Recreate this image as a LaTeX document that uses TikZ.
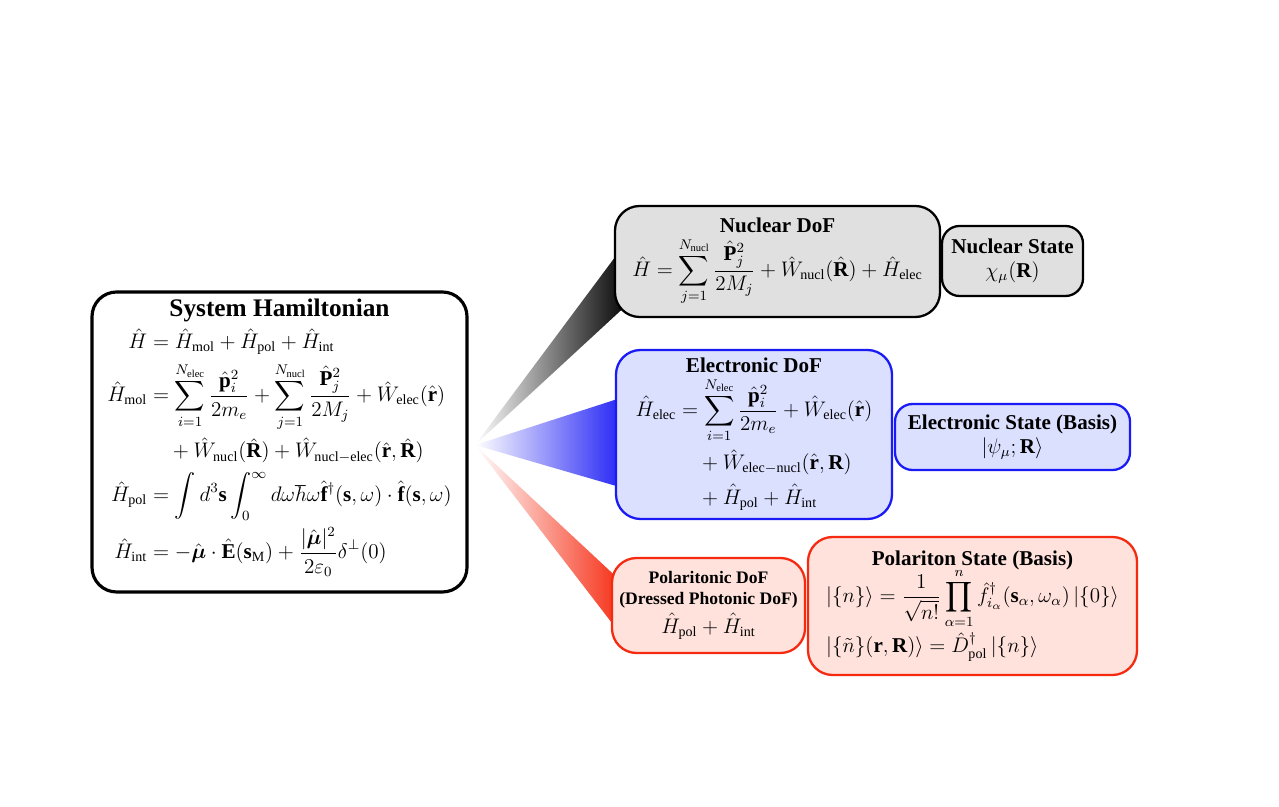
\documentclass[tikz,border=0pt]{standalone}
\usepackage{amsmath,amssymb}
\usepackage{fontspec}
\setmainfont{Liberation Serif}
\usetikzlibrary{positioning}
\definecolor{nucfill}{HTML}{E0E0E0}
\definecolor{elecline}{HTML}{1A1AF5}
\definecolor{elecfill}{HTML}{DCE0FF}
\definecolor{polline}{HTML}{F52A10}
\definecolor{polfill}{HTML}{FFE2DC}
\newcommand{\mrm}[1]{\mathrm{#1}}
\begin{document}
\begin{tikzpicture}[
  box/.style={draw, rounded corners=14pt, line width=1.3pt, align=center, inner sep=2pt, font=\large},
  nucbox/.style={box, fill=nucfill},
  elecbox/.style={box, draw=elecline, fill=elecfill},
  polbox/.style={box, draw=polline, fill=polfill}
]
  \useasboundingbox (0,0) rectangle (25.58,16.14);
  % wedges from the system box
  \coordinate (apex) at (9.5,7.24);
  \shade[left color=white, right color=black] (apex) -- (12.6,11.4) -- (12.6,10.1) -- cycle;
  \shade[left color=white, right color=elecline] (apex) -- (12.6,8.24) -- (12.6,6.34) -- cycle;
  \shade[left color=white, right color=polline] (apex) -- (12.5,4.44) -- (12.5,3.34) -- cycle;
  % system hamiltonian
  \node[box, line width=1.8pt, minimum width=7.5cm, minimum height=6cm] (sys) at (5.59,7.30) {};
  \node[font=\Large\bfseries, below=0.05cm of sys.north] (systtl) {System Hamiltonian};
  \node[font=\large, below=-0.12cm of systtl] (syseq) {$\begin{aligned}
    \hat H &= \hat H_{\mrm{mol}} + \hat H_{\mrm{pol}} + \hat H_{\mrm{int}}\\
    \hat H_{\mrm{mol}} &= \sum_{i=1}^{N_{\mrm{elec}}} \frac{\hat{\mathbf p}_i^2}{2m_e} + \sum_{j=1}^{N_{\mrm{nucl}}}\frac{\hat{\mathbf P}_j^2}{2M_j} + \hat W_{\mrm{elec}}(\hat{\mathbf r})\\
    &\quad + \hat W_{\mrm{nucl}}(\hat{\mathbf R}) + \hat W_{\mrm{nucl-elec}}(\hat{\mathbf r},\hat{\mathbf R})\\
    \hat H_{\mrm{pol}} &= \int d^3\mathbf s \int_0^\infty d\omega\hbar\omega \hat{\mathbf f}^\dagger(\mathbf s,\omega)\cdot\hat{\mathbf f}(\mathbf s,\omega)\\
    \hat H_{\mrm{int}} &= -\hat{\boldsymbol\mu}\cdot\hat{\mathbf E}(\mathbf s_{\mrm M}) + \frac{|\hat{\boldsymbol\mu}|^2}{2\varepsilon_0}\delta^\perp(0)
  \end{aligned}$};
  % nuclear
  \node[nucbox, minimum width=6.5cm, minimum height=2.22cm] (nucdof) at (15.55,10.91)
    {\textbf{Nuclear DoF}\\[2pt] $\displaystyle\hat H = \sum_{j=1}^{N_{\mrm{nucl}}}\frac{\hat{\mathbf P}_j^2}{2M_j} + \hat W_{\mrm{nucl}}(\hat{\mathbf R}) + \hat H_{\mrm{elec}}$};
  \node[nucbox, rounded corners=10pt, minimum width=2.82cm, minimum height=1.4cm] (nucst) at (20.25,10.92)
    {\textbf{Nuclear State}\\ $\chi_\mu(\mathbf R)$};
  % electronic
  \node[elecbox, minimum width=5.52cm, minimum height=3.38cm] (elecdof) at (15.08,7.45)
    {\textbf{Electronic DoF}\\[2pt] $\begin{aligned}
      \hat H_{\mrm{elec}} &= \sum_{i=1}^{N_{\mrm{elec}}}\frac{\hat{\mathbf p}_i^2}{2m_e} + \hat W_{\mrm{elec}}(\hat{\mathbf r})\\
      &\quad + \hat W_{\mrm{elec-nucl}}(\hat{\mathbf r},\mathbf R)\\
      &\quad + \hat H_{\mrm{pol}} + \hat H_{\mrm{int}}
    \end{aligned}$};
  \node[elecbox, rounded corners=10pt, minimum width=4.7cm, minimum height=1.32cm] (elecst) at (20.25,7.40)
    {\textbf{Electronic State (Basis)}\\ $|\psi_\mu;\mathbf R\rangle$};
  % polaritonic
  \node[polbox, minimum width=3.86cm, minimum height=1.9cm] (poldof) at (14.17,4.03)
    {{\normalsize\bfseries Polaritonic DoF}\\[-2pt] {\normalsize\bfseries(Dressed Photonic DoF)}\\[2pt] $\hat H_{\mrm{pol}} + \hat H_{\mrm{int}}$};
  \node[polbox, minimum width=6.58cm, minimum height=2.76cm] (polst) at (19.45,4.02)
    {\textbf{Polariton State (Basis)}\\[-2pt] $\begin{aligned}
      &|\{n\}\rangle = \frac{1}{\sqrt{n!}}\prod_{\alpha=1}^{n}\hat f_{i_\alpha}^\dagger(\mathbf s_\alpha,\omega_\alpha)\,|\{0\}\rangle\\[-2pt]
      &|\{\tilde n\}(\mathbf r,\mathbf R)\rangle = \hat D_{\mrm{pol}}^\dagger\,|\{n\}\rangle
    \end{aligned}$};
\end{tikzpicture}
\end{document}
